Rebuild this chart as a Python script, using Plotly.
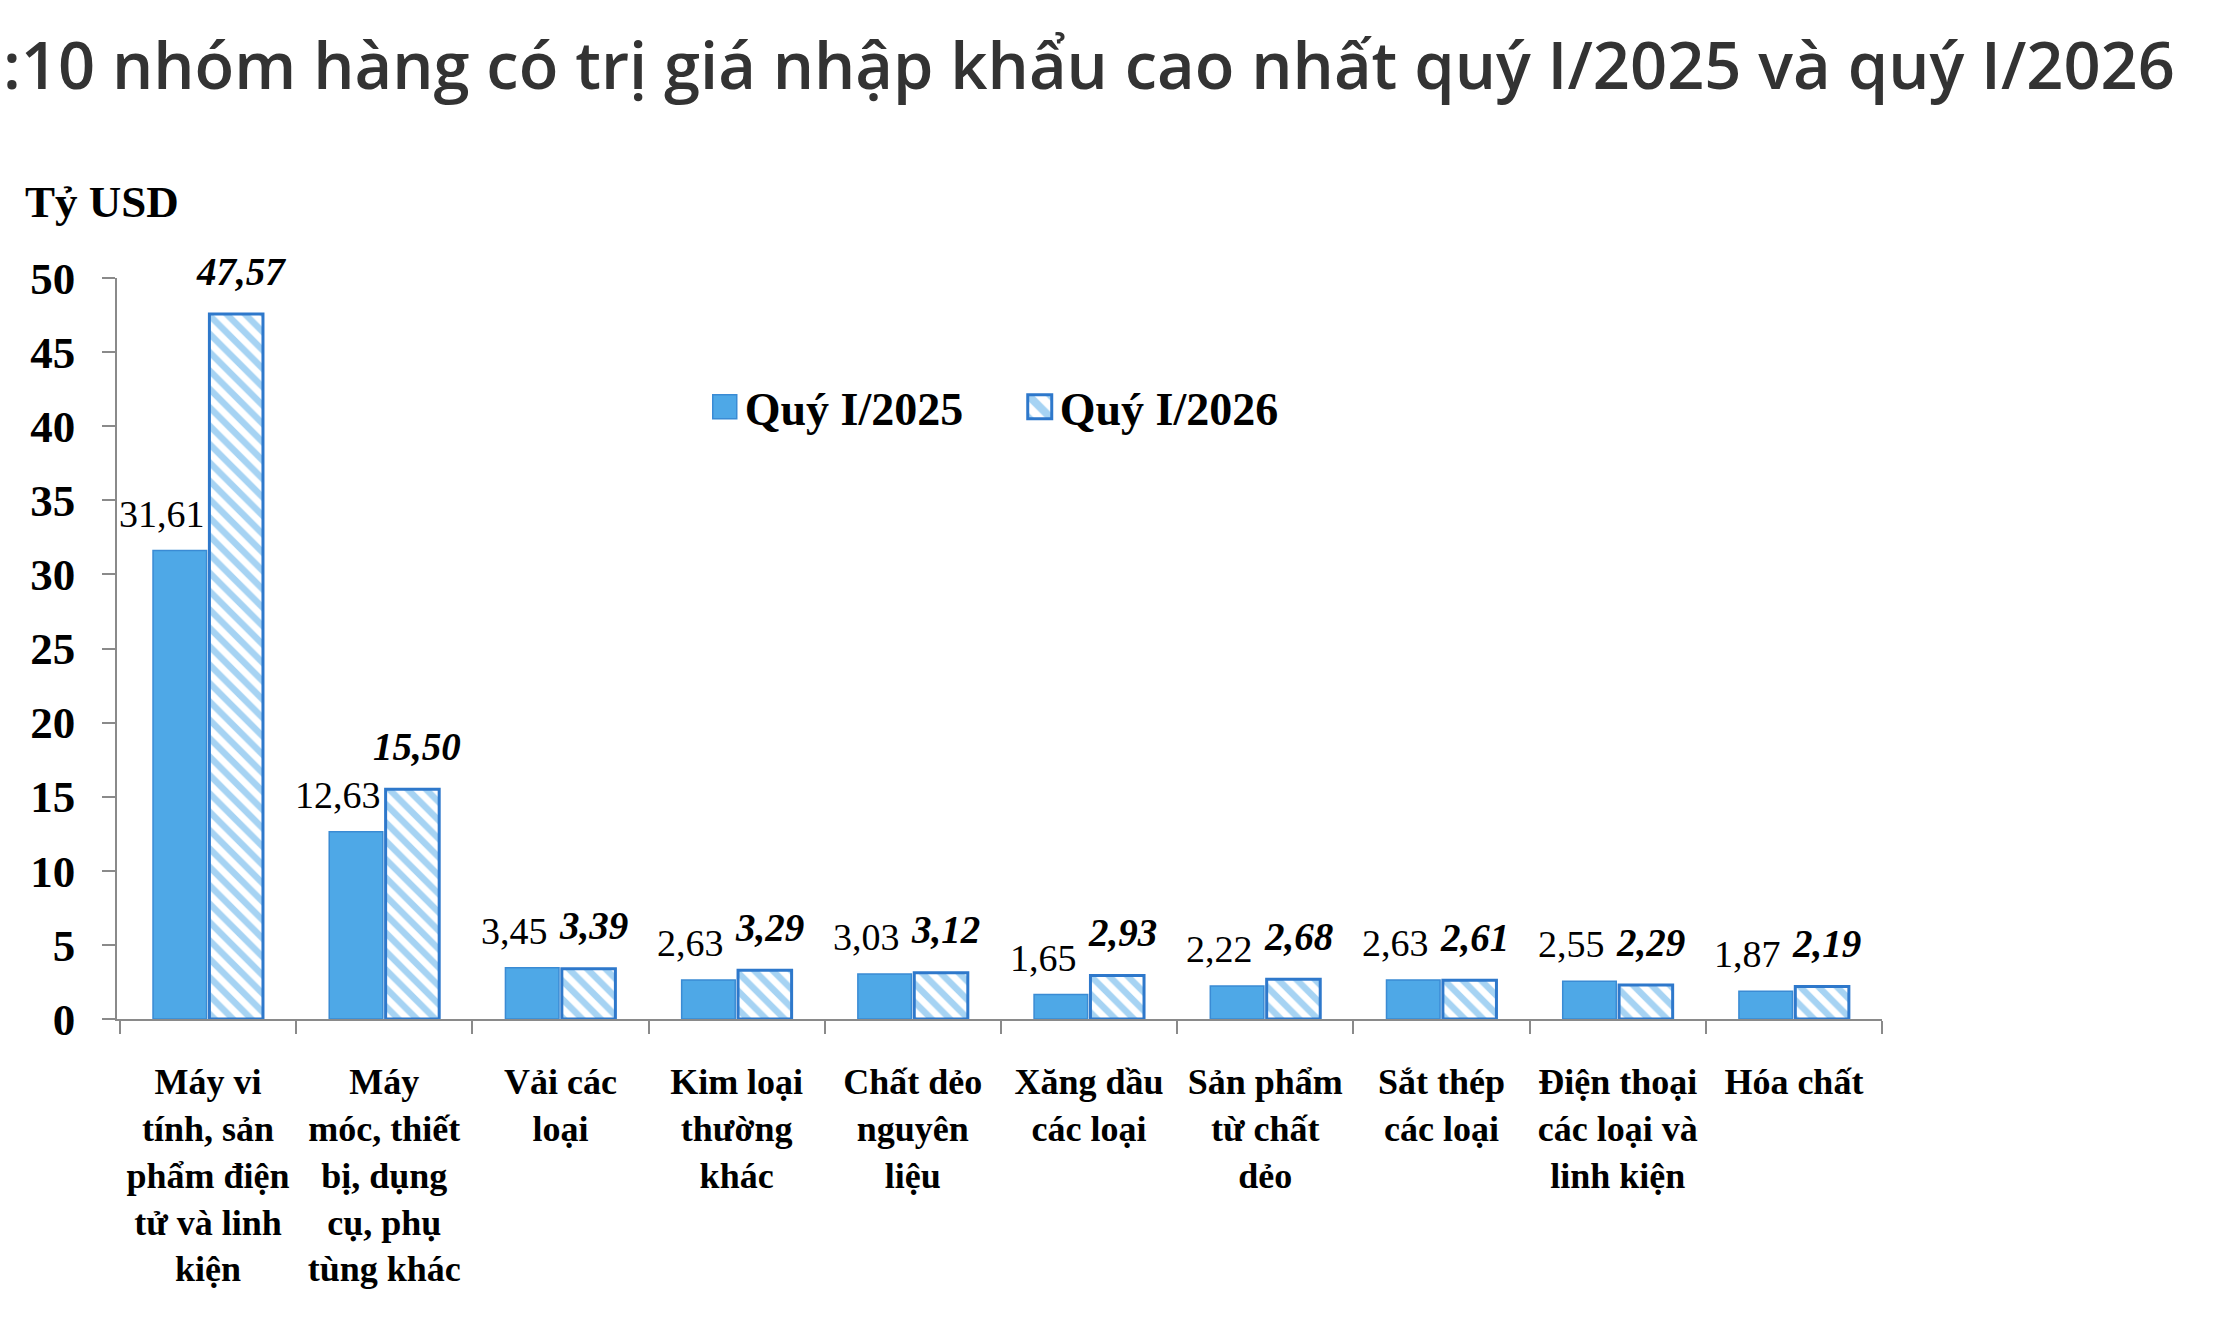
import plotly.graph_objects as go

categories = [
    "Máy vi<br>tính, sản<br>phẩm điện<br>tử và linh<br>kiện",
    "Máy<br>móc, thiết<br>bị, dụng<br>cụ, phụ<br>tùng khác",
    "Vải các<br>loại",
    "Kim loại<br>thường<br>khác",
    "Chất dẻo<br>nguyên<br>liệu",
    "Xăng dầu<br>các loại",
    "Sản phẩm<br>từ chất<br>dẻo",
    "Sắt thép<br>các loại",
    "Điện thoại<br>các loại và<br>linh kiện",
    "Hóa chất",
]
q1_2025 = [31.61, 12.63, 3.45, 2.63, 3.03, 1.65, 2.22, 2.63, 2.55, 1.87]
q1_2026 = [47.57, 15.50, 3.39, 3.29, 3.12, 2.93, 2.68, 2.61, 2.29, 2.19]
series_names = ["Quý I/2025", "Quý I/2026"]
y_ticks = [0, 5, 10, 15, 20, 25, 30, 35, 40, 45, 50]

SERIF = "Liberation Serif"
BLUE = "#4EA8E7"
BORDER_SOLID = "#3A8BD4"
BORDER_HATCH = "#2E78CB"
AXIS = "#8a8a8a"


def fmt(v):
    return f"{v:.2f}".replace(".", ",")


fig = go.Figure()
fig.add_trace(go.Bar(
    name=series_names[0], x=categories, y=q1_2025,
    marker=dict(color=BLUE, line=dict(color=BORDER_SOLID, width=1.5)),
))
fig.add_trace(go.Bar(
    name=series_names[1], x=categories, y=q1_2026,
    marker=dict(color="white", line=dict(color=BORDER_HATCH, width=3),
                pattern=dict(shape="\\", fgcolor=BLUE, bgcolor="white",
                             size=13, solidity=0.5)),
))

annotations = []
for c, v in zip(categories, q1_2025):
    annotations.append(dict(
        x=c, y=v, xref="x", yref="y", text=fmt(v), showarrow=False,
        xshift=-46, yshift=37, yanchor="middle",
        font=dict(family=SERIF, size=38, color="black"),
    ))
for c, v in zip(categories, q1_2026):
    annotations.append(dict(
        x=c, y=v, xref="x", yref="y", text=fmt(v), showarrow=False,
        xshift=33, yshift=43, yanchor="middle",
        font=dict(family=SERIF, size=39, color="black", weight="bold", style="italic"),
    ))

# unit label
annotations.append(dict(
    x=-0.053, y=1.1026, xref="paper", yref="paper", xanchor="left", yanchor="middle",
    text="Tỷ USD", showarrow=False,
    font=dict(family=SERIF, size=45, color="black", weight="bold"),
))
# title
annotations.append(dict(
    x=-0.0657, y=1.289, xref="paper", yref="paper", xanchor="left", yanchor="middle",
    text=":10 nhóm hàng có trị giá nhập khẩu cao nhất quý I/2025 và quý I/2026",
    showarrow=False,
    font=dict(family="Open Sans", size=65, color="#333333", weight=600),
))

fig.update_layout(
    width=2222, height=1326,
    margin=dict(l=117, r=340, t=278, b=307),
    paper_bgcolor="white", plot_bgcolor="white",
    barmode="group", bargap=0.36, bargroupgap=0.05,
    showlegend=True,
    legend=dict(
        orientation="h", x=0.333, y=0.826, xanchor="left", yanchor="middle",
        font=dict(family=SERIF, size=46, color="black", weight="bold"),
        entrywidth=270, entrywidthmode="pixels", bgcolor="rgba(0,0,0,0)",
        traceorder="normal",
    ),
    annotations=annotations,
)
fig.update_yaxes(
    range=[0, 50], tickvals=y_ticks, ticktext=[str(t) for t in y_ticks],
    ticks="outside", ticklen=13, tickwidth=1.5, tickcolor=AXIS,
    showline=True, linecolor=AXIS, linewidth=1.5,
    showgrid=False, zeroline=False, ticklabelstandoff=18,
    tickfont=dict(family=SERIF, size=45, color="black", weight="bold"),
)
fig.update_xaxes(
    type="category", tickson="boundaries", ticks="outside", ticklen=13,
    tickwidth=1.5, tickcolor=AXIS, showline=True, linecolor=AXIS, linewidth=2,
    showgrid=False, ticklabelstandoff=30,
    tickfont=dict(family=SERIF, size=36, color="black", weight="bold"),
)

post = """
document.body.style.margin='0';
function enlargeLegendSymbols(){
  document.querySelectorAll('.legendpoints path').forEach(function(p){
    if (p.getAttribute('data-scaled')) return;
    var t = p.getAttribute('transform') || '';
    p.setAttribute('transform', t + ' scale(2)');
    p.style.vectorEffect = 'non-scaling-stroke';
    p.setAttribute('data-scaled', '1');
  });
}
enlargeLegendSymbols();
setTimeout(enlargeLegendSymbols, 50);
setTimeout(enlargeLegendSymbols, 400);
"""

fig.write_html("out.html", post_script=post, config={"displayModeBar": False})
